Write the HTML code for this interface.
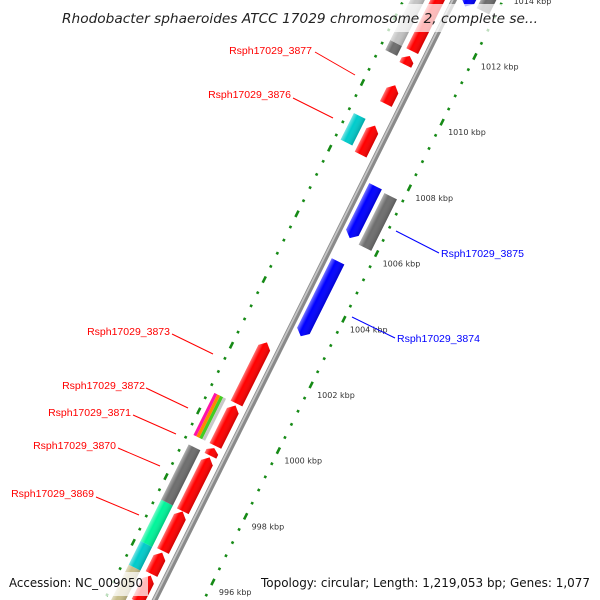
<!DOCTYPE html>
<html><head><meta charset="utf-8"><style>
html,body{margin:0;padding:0;background:#fff;width:600px;height:600px;overflow:hidden;}
svg{display:block;overflow:hidden;}
</style></head><body>
<svg id="map" width="600" height="600" viewBox="0 0 600 600" xmlns="http://www.w3.org/2000/svg">
<defs>
<linearGradient id="shade" x1="0" y1="0" x2="0" y2="1">
<stop offset="0" stop-color="#fff" stop-opacity="0.45"/>
<stop offset="0.35" stop-color="#fff" stop-opacity="0"/>
<stop offset="1" stop-color="#000" stop-opacity="0.18"/>
</linearGradient>
<clipPath id="frame"><rect x="0" y="0" width="600" height="600"/></clipPath>
</defs>
<g clip-path="url(#frame)">
<g id="rot" transform="translate(239,431) rotate(-63.5)"></g>
</g>
<g id="labels"></g>
<g font-family="Liberation Sans, sans-serif" font-size="10.5">
<line x1="315" y1="52" x2="355" y2="75" stroke="#f00" stroke-width="1"/>
<text x="312" y="54" text-anchor="end" fill="#f00">Rsph17029_3877</text>
<line x1="293" y1="98" x2="333" y2="118" stroke="#f00" stroke-width="1"/>
<text x="291" y="98" text-anchor="end" fill="#f00">Rsph17029_3876</text>
<line x1="396" y1="231" x2="439" y2="253" stroke="#00f" stroke-width="1"/>
<text x="441" y="257" fill="#00f">Rsph17029_3875</text>
<line x1="352" y1="317" x2="395" y2="338" stroke="#00f" stroke-width="1"/>
<text x="397" y="342" fill="#00f">Rsph17029_3874</text>
<line x1="172" y1="334" x2="213" y2="354" stroke="#f00" stroke-width="1"/>
<text x="170" y="335" text-anchor="end" fill="#f00">Rsph17029_3873</text>
<line x1="146" y1="388" x2="188" y2="408" stroke="#f00" stroke-width="1"/>
<text x="145" y="389" text-anchor="end" fill="#f00">Rsph17029_3872</text>
<line x1="133" y1="415" x2="176" y2="434" stroke="#f00" stroke-width="1"/>
<text x="131" y="416" text-anchor="end" fill="#f00">Rsph17029_3871</text>
<line x1="118" y1="448" x2="160" y2="466" stroke="#f00" stroke-width="1"/>
<text x="116" y="449" text-anchor="end" fill="#f00">Rsph17029_3870</text>
<line x1="96" y1="497" x2="139" y2="515" stroke="#f00" stroke-width="1"/>
<text x="94" y="497" text-anchor="end" fill="#f00">Rsph17029_3869</text>
</g>
<rect x="55" y="4" width="490" height="28" fill="#fff" fill-opacity="0.72"/>
<text x="62" y="23" font-family="DejaVu Sans, sans-serif" font-style="italic" font-size="13.5" fill="#222" textLength="476" lengthAdjust="spacingAndGlyphs">Rhodobacter sphaeroides ATCC 17029 chromosome 2, complete se...</text>
<rect x="4" y="572" width="144" height="24" fill="#fff" fill-opacity="0.72"/>
<text x="9" y="587" font-family="DejaVu Sans, sans-serif" font-size="12.5" fill="#111" textLength="134" lengthAdjust="spacingAndGlyphs">Accession: NC_009050</text>
<rect x="255" y="572" width="342" height="24" fill="#fff" fill-opacity="0.72"/>
<text x="261" y="587" font-family="DejaVu Sans, sans-serif" font-size="12.5" fill="#111" textLength="329" lengthAdjust="spacingAndGlyphs">Topology: circular; Length: 1,219,053 bp; Genes: 1,077</text>
</svg>
<script>
// feature data (kbp)
const featStart = [994.6, 995.45, 996.15, 997.36, 999.05, 999.35, 1000.64, 1008.22, 1009.76, 1010.95, 1011.37,
                   994.0, 995.4, 996.12, 997.38, 999.35, 999.35, 999.35, 999.35, 1008.34, 1011.07, 1011.37,
                   1003.06, 1006.05, 1013.1, 1006.0, 1013.2];
const featEnd   = [995.4, 996.1, 997.35, 999.0, 999.28, 1000.58, 1002.5, 1009.1, 1010.33, 1011.22, 1013.2,
                   995.4, 996.12, 997.38, 999.06, 1000.63, 1000.63, 1000.63, 1000.63, 1009.15, 1011.37, 1013.0,
                   1005.34, 1007.63, 1013.8, 1007.57, 1014.0];
const featLane  = ["L1","L1","L1","L1","L1","L1","L1","L1","L1","L1","L1",
                   "L2","L2","L2","L2","L2a","L2b","L2c","L2d","L2","L2","L2",
                   "R1","R1","R1","R2","R2"];
const featColor = ["#ff0000","#ff0000","#ff0000","#ff0000","#ff0000","#ff0000","#ff0000","#ff0000","#ff0000","#ff0000","#ff0000",
                   "#c8be8a","#00cccc","#00f59a","#6e6e6e","#ff14a8","#ff8800","#44cc22","#c8c8c8","#00cccc","#6e6e6e","#c4c4c4",
                   "#0000ff","#0000ff","#0000ff","#6e6e6e","#6e6e6e"];
const featType  = ["fwd","fwd","fwd","fwd","fwd","fwd","fwd","fwd","fwd","fwd","fwd",
                   "rect","rect","rect","rect","rect","rect","rect","rect","rect","rect","rect",
                   "rev","rev","rev","rect","rect"];
const majorTicks = [994, 996, 998, 1000, 1002, 1004, 1006, 1008, 1010, 1012, 1014];
const tickLabels = ["994 kbp","996 kbp","998 kbp","1000 kbp","1002 kbp","1004 kbp","1006 kbp","1008 kbp","1010 kbp","1012 kbp","1014 kbp"];

const NS = "http://www.w3.org/2000/svg";
const ORIGIN_KBP = 1000, PX_PER_KBP = 36.7;
const OX = 239, OY = 431, ANG = -63.5 * Math.PI / 180;
const UX = Math.cos(ANG), UY = Math.sin(ANG), NX = -Math.sin(ANG), NY = Math.cos(ANG);
const lanes = {L1:[-21,-8], L2:[-39,-26], L2a:[-39,-35.75], L2b:[-35.75,-32.5], L2c:[-32.5,-29.25], L2d:[-29.25,-26], R1:[6,20], R2:[24,38]};
function xs(k){ return (k - ORIGIN_KBP) * PX_PER_KBP; }
function toImg(x,y){ return [OX + x*UX + y*NX, OY + x*UY + y*NY]; }
const rot = document.getElementById('rot');
const lab = document.getElementById('labels');

// backbone
const bb = document.createElementNS(NS,'rect');


bb.setAttribute('x', -560); bb.setAttribute('y', -2.8); bb.setAttribute('width', 1100); bb.setAttribute('height', 5.6);
bb.setAttribute('fill', '#8a8a8a'); rot.appendChild(bb);
const bb2 = document.createElementNS(NS,'rect');


bb2.setAttribute('x', -560); bb2.setAttribute('y', -2); bb2.setAttribute('width', 1100); bb2.setAttribute('height', 1.8);
bb2.setAttribute('fill', '#c4c4c4'); rot.appendChild(bb2);

// ticks
function tick(k, y, major, side){
  const len = major ? 7 : 2.6;
  const r = document.createElementNS(NS,'rect');
  
  
  r.setAttribute('x', xs(k) - len/2); r.setAttribute('y', y - 1.3);
  r.setAttribute('width', len); r.setAttribute('height', 2.6);
  r.setAttribute('fill', '#168a16'); rot.appendChild(r);
}
for (let i = 0; i < majorTicks.length - 1; i++) {
  const a = majorTicks[i], b = majorTicks[i+1];
  for (let j = 0; j < 5; j++) {
    const k = a + (b - a) * j / 5;
    tick(k, 44, j === 0, 'outer');
    tick(k, -45, j === 0, 'inner');
  }
}
tick(majorTicks[majorTicks.length-1], 44, true, 'outer');
tick(majorTicks[majorTicks.length-1], -45, true, 'inner');
majorTicks.forEach((k, i) => {
  const p = toImg(xs(k), 44);
  const t = document.createElementNS(NS,'text');
  
  
  t.setAttribute('x', (p[0] + 6).toFixed(1)); t.setAttribute('y', (p[1] + 13).toFixed(1));
  t.setAttribute('font-family', 'DejaVu Sans, sans-serif'); t.setAttribute('font-size', '8');
  t.setAttribute('fill', '#333');
  t.textContent = tickLabels[i];
  lab.appendChild(t);
});

// features
for (let i = 0; i < featStart.length; i++) {
  const x0 = xs(featStart[i]), x1 = xs(featEnd[i]);
  const ln = lanes[featLane[i]], y0 = ln[0], y1 = ln[1], ym = (y0 + y1) / 2;
  const head = Math.min(6, (x1 - x0) * 0.5);
  let pts;
  if (featType[i] === 'fwd') pts = [[x0,y0],[x1-head,y0],[x1,ym],[x1-head,y1],[x0,y1]];
  else if (featType[i] === 'rev') pts = [[x0,ym],[x0+head,y0],[x1,y0],[x1,y1],[x0+head,y1]];
  else pts = [[x0,y0],[x1,y0],[x1,y1],[x0,y1]];
  const d = pts.map(p => p[0].toFixed(2) + ',' + p[1].toFixed(2)).join(' ');
  const g = document.createElementNS(NS,'g');
  
  
  const p1 = document.createElementNS(NS,'polygon');
  
  
  p1.setAttribute('points', d); p1.setAttribute('fill', featColor[i]);
  g.appendChild(p1);
  if (!featLane[i].match(/L2[a-d]/)) {
    const p2 = document.createElementNS(NS,'polygon');
    
    
    p2.setAttribute('points', d); p2.setAttribute('fill', 'url(#shade)');
    g.appendChild(p2);
  }
  rot.appendChild(g);
}
</script>
</body></html>
